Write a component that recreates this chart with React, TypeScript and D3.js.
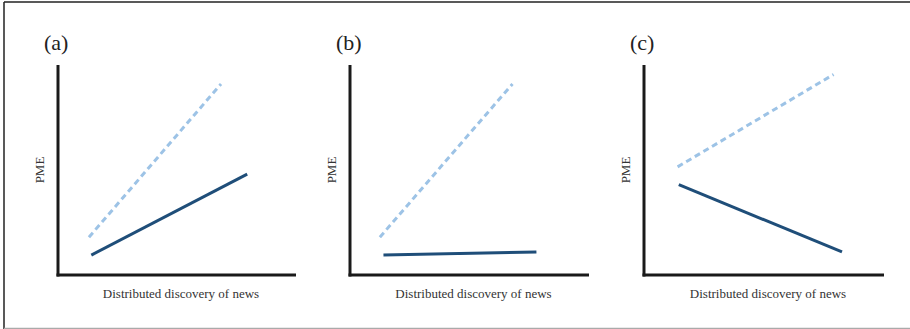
import React from 'react';
import * as d3 from 'd3';

const panelLabels = ['(a)', '(b)', '(c)'];
const xTitle = 'Distributed discovery of news';
const yTitle = 'PME';

// endpoints of each line, in a 0-10 space
const dashedA: [number, number][] = [[1.3, 1.8], [6.85, 9.1]];
const solidA: [number, number][] = [[1.4, 0.95], [7.95, 4.8]];
const dashedB: [number, number][] = [[1.25, 1.8], [6.8, 9.1]];
const solidB: [number, number][] = [[1.4, 0.95], [7.8, 1.1]];
const dashedC: [number, number][] = [[1.4, 5.15], [7.9, 9.55]];
const solidC: [number, number][] = [[1.45, 4.3], [8.25, 1.1]];

const dashedSeries = [dashedA, dashedB, dashedC];
const solidSeries = [solidA, solidB, solidC];

const axisLeftX = [58, 350, 644];
const axisRightX = [296, 589, 884];
const top = 65;
const bottom = 275;
const serif = 'Liberation Serif, Times New Roman, serif';

function Panel({ i }: { i: number }) {
  const x = d3.scaleLinear().domain([0, 10]).range([axisLeftX[i], axisRightX[i]]);
  const y = d3.scaleLinear().domain([0, 10]).range([bottom, top]);
  const line = d3.line<[number, number]>().x(d => x(d[0])).y(d => y(d[1]));
  const x0 = axisLeftX[i];
  const mid = (axisLeftX[i] + axisRightX[i]) / 2;
  return (
    <g>
      <text x={x0 - 14} y={50} fontSize={22} textAnchor="start" fill="#222"
        fontFamily={serif}>{panelLabels[i]}</text>
      <text transform={`translate(${x0 - 14},170) rotate(-90)`} fontSize={13}
        textAnchor="middle" fill="#333" fontFamily={serif}>{yTitle}</text>
      <text x={mid + 4} y={298} fontSize={13} textAnchor="middle" fill="#333"
        fontFamily={serif}>{xTitle}</text>
      <path d={line(dashedSeries[i]) || ''} fill="none" stroke="#9dc3e6" strokeWidth={3}
        strokeDasharray="6,4" />
      <path d={line(solidSeries[i]) || ''} fill="none" stroke="#1f4e79" strokeWidth={3} />
      <line x1={x0} x2={x0} y1={top} y2={bottom + 1.5} stroke="#1a1a1a" strokeWidth={3} />
      <line x1={x0 - 1.5} x2={axisRightX[i]} y1={bottom} y2={bottom} stroke="#1a1a1a" strokeWidth={3} />
    </g>
  );
}

export default function App() {
  return (
    <svg width={910} height={329} style={{ position: 'absolute', left: 0, top: 0, background: '#fff' }}>
      <line x1={4} x2={910} y1={2} y2={2} stroke="#222" strokeWidth={1.5} />
      <line x1={4} x2={4} y1={2} y2={329} stroke="#222" strokeWidth={1.5} />
      <line x1={4} x2={910} y1={328.5} y2={328.5} stroke="#aaa" strokeWidth={1.5} />
      {[0, 1, 2].map(i => <Panel key={i} i={i} />)}
    </svg>
  );
}
